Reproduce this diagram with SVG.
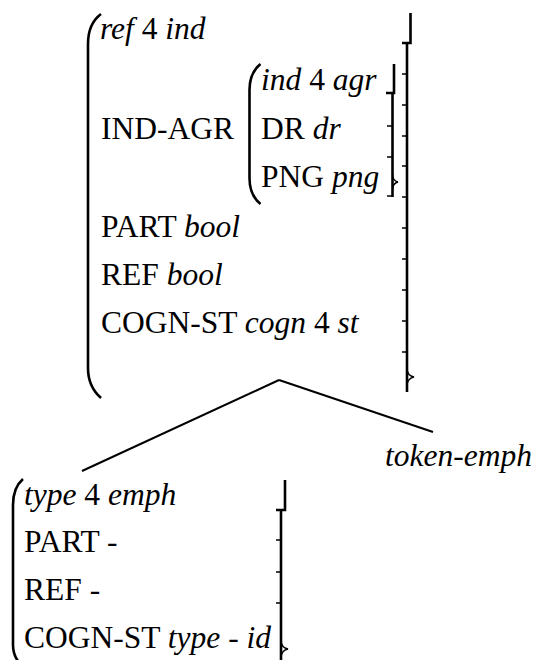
<svg xmlns="http://www.w3.org/2000/svg" width="536" height="660" viewBox="0 0 536 660">
<style>
text{font-family:'Liberation Serif', 'Times New Roman', serif;font-size:31.5px;fill:#000}
.i{font-style:italic}
.br{fill:none;stroke:#000;stroke-width:2.6;stroke-linecap:butt}
.tk{fill:none;stroke:#000;stroke-width:1.4}
.edge{fill:none;stroke:#000;stroke-width:2}
</style>
<rect width="536" height="660" fill="#fff"/>
<g id="avm-top">
<path class="br" d="M101,14 C93,20 88,30 88,44 V368 C88,382 93,391 101,398"/>
<text x="100" y="39"><tspan class="i">ref</tspan> 4 <tspan class="i">ind</tspan></text>
<text x="101" y="139">IND-AGR</text>
<text x="101" y="237">PART <tspan class="i">bool</tspan></text>
<text x="101" y="285">REF <tspan class="i">bool</tspan></text>
<text x="101" y="333">COGN-ST <tspan class="i">cogn</tspan> 4 <tspan class="i">st</tspan></text>
<path class="br" d="M410.5,13 V43 H402"/>
<path class="br" d="M407,44 V392"/>
<path class="tk" d="M402,74 H407 M402,105 H407 M402,136 H407 M402,166 H407 M402,197 H407 M402,228 H407 M402,259 H407 M402,290 H407 M402,321 H407 M402,352 H407"/>
<path class="tk" d="M407,368 C407,373 409,376 414,377 C409,378 407,381 407,386"/>
</g>
<g id="avm-inner">
<path class="br" d="M260.5,64 C253,70 249.5,78 249.5,90 V178 C249.5,190 253,198 260.5,204"/>
<text x="261" y="90"><tspan class="i">ind</tspan> 4 <tspan class="i">agr</tspan></text>
<text x="261" y="139">DR <tspan class="i">dr</tspan></text>
<text x="261" y="187">PNG <tspan class="i">png</tspan></text>
<path class="br" d="M394,64 V93 H386"/>
<path class="br" d="M392.5,93 V197"/>
<path class="tk" d="M387,126 H392.5 M387,157 H392.5 M387,196 H392.5"/>
<path class="tk" d="M392.5,174 C392.5,179 394,181 398,182 C394,183 392.5,185 392.5,190"/>
</g>
<g id="avm-bottom">
<path class="br" d="M23,479 C16,485 13,493 13,505 V645 C13,652 15,657 18,661"/>
<text x="24" y="505"><tspan class="i">type</tspan> 4 <tspan class="i">emph</tspan></text>
<text x="24" y="552">PART -</text>
<text x="24" y="600">REF -</text>
<text x="24" y="648">COGN-ST <tspan class="i">type - id</tspan></text>
<path class="br" d="M285,480 V510 H276"/>
<path class="br" d="M281,510 V660"/>
<path class="tk" d="M276,540 H281 M276,572 H281 M276,603 H281"/>
<path class="tk" d="M281,640 C281,645 283,648 288,649 C283,650 281,653 281,658"/>
</g>
<g id="label-token-emph">
<text x="385" y="466" class="i">token-emph</text>
</g>
<g id="connectors">
<path class="edge" d="M279,380 L82,471"/>
<path class="edge" d="M279,380 L433,432"/>
</g>
</svg>
